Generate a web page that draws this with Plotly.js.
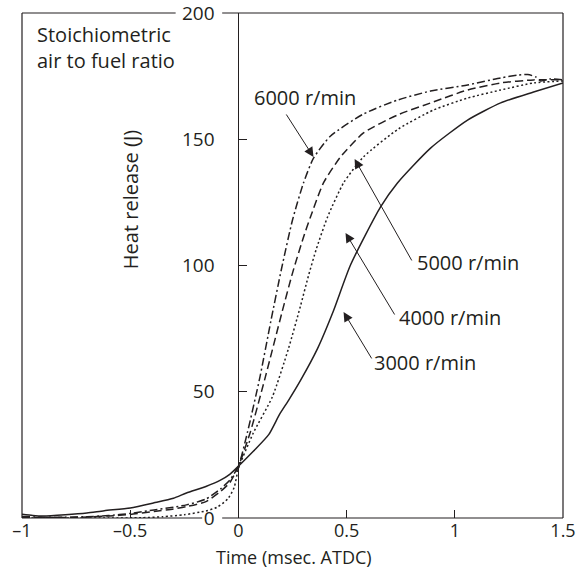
<!DOCTYPE html>
<html>
<head>
<meta charset="utf-8">
<script src="https://cdn.plot.ly/plotly-3.0.1.min.js"></script>
<style>html,body{margin:0;padding:0;background:#fff;}</style>
</head>
<body>
<div id="chart" style="width:576px;height:570px;"></div>
<script>
// ---- data ----
const x3000 = [-1, -0.95, -0.9, -0.8, -0.7, -0.62, -0.5, -0.39, -0.3, -0.24, -0.15, -0.083, -0.04, 0, 0.07, 0.14, 0.19, 0.231, 0.287, 0.365, 0.439, 0.518, 0.657, 0.735, 0.888, 1.059, 1.212, 1.364, 1.5];
const y3000 = [1.5, 1.0, 0.8, 1.3, 2.0, 2.9, 4.0, 6.0, 7.8, 9.9, 12.5, 15, 17.3, 20.5, 26.5, 33, 41, 46.5, 54.5, 67, 82, 100.2, 123.2, 132.7, 146.5, 157.6, 164.4, 168.7, 172.3];

const x4000 = [-1, -0.8, -0.6, -0.45, -0.35, -0.25, -0.15, -0.1, -0.05, -0.02, 0, 0.069, 0.157, 0.231, 0.287, 0.324, 0.36, 0.412, 0.486, 0.578, 0.74, 0.902, 1.059, 1.212, 1.364, 1.5];
const y4000 = [0, 0, 0, 0.1, 0.5, 1.3, 2.8, 4.2, 7.5, 12, 19.5, 33.7, 48, 67, 84, 96, 106.5, 119.2, 132.7, 143, 154.1, 161.6, 166.3, 169.5, 172.3, 173.1];

const x5000 = [-1, -0.9, -0.8, -0.7, -0.6, -0.5, -0.39, -0.3, -0.24, -0.15, -0.083, -0.04, 0, 0.055, 0.125, 0.2, 0.25, 0.3, 0.333, 0.393, 0.472, 0.578, 0.735, 0.902, 1.059, 1.212, 1.364, 1.5];
const y5000 = [0.3, 0.2, 0.2, 0.4, 0.8, 1.4, 2.6, 3.6, 4.5, 6.5, 10.5, 14, 20.5, 34, 56, 81, 97, 111, 119.2, 132.7, 143, 152.5, 159.6, 164.8, 169.5, 172.3, 173.5, 173.5];

const x6000 = [-1, -0.9, -0.8, -0.7, -0.6, -0.5, -0.39, -0.3, -0.24, -0.15, -0.083, -0.04, 0, 0.042, 0.1, 0.15, 0.2, 0.25, 0.3, 0.347, 0.426, 0.578, 0.735, 0.888, 1.059, 1.212, 1.29, 1.337, 1.374, 1.397, 1.443, 1.5];
const y6000 = [0.6, 0.3, 0.3, 0.5, 1.0, 1.8, 3.2, 4.3, 5.2, 7.5, 11.5, 15, 20.5, 34, 56, 78, 99, 118, 132.5, 142.5, 151.3, 160, 165.5, 169.1, 171.5, 174.3, 175.4, 175.6, 174.7, 173.1, 173.9, 173.5];

const xTickVals = [-1, -0.5, 0, 0.5, 1, 1.5];
const xTickText = ['\u20131', '\u20130.5', '0', '0.5', '1', '1.5'];
const yTickVals = [0, 50, 100, 150, 200];
const yTickText = ['0', '50', '100', '150', '200'];

const speedLabels = ['6000 r/min', '5000 r/min', '4000 r/min', '3000 r/min'];
const xTitle = 'Time (msec. ATDC)';
const yTitle = 'Heat release (J)';

// ---- styling ----
const INK = '#231f20';
const FONT = 'Open Sans, Liberation Sans, Arial, sans-serif';
const FS = 20;
const TFS = 19;

const traces = [
  {x: x3000, y: y3000, mode: 'lines', line: {color: INK, width: 1.5, shape: 'spline', smoothing: 0.6}, name: speedLabels[3]},
  {x: x4000, y: y4000, mode: 'lines', line: {color: INK, width: 1.5, dash: '2px,2.5px', shape: 'spline', smoothing: 0.6}, name: speedLabels[2]},
  {x: x5000, y: y5000, mode: 'lines', line: {color: INK, width: 1.5, dash: '8px,4px', shape: 'spline', smoothing: 0.6}, name: speedLabels[1]},
  {x: x6000, y: y6000, mode: 'lines', line: {color: INK, width: 1.5, dash: '8px,3px,2px,3px', shape: 'spline', smoothing: 0.6}, name: speedLabels[0]}
];

// frame (paper coords of the plotting area), with gaps where 200 and 0 labels sit
const frameLine = {color: INK, width: 1.2};
const shapes = [
  {type: 'line', xref: 'paper', yref: 'paper', x0: 0, x1: 0, y0: 0, y1: 1, line: frameLine},
  {type: 'line', xref: 'paper', yref: 'paper', x0: 1, x1: 1, y0: 0, y1: 1, line: frameLine},
  {type: 'line', xref: 'paper', yref: 'paper', x0: 0, x1: 0.284, y0: 1, y1: 1, line: frameLine},
  {type: 'line', xref: 'paper', yref: 'paper', x0: 0.370, x1: 1, y0: 1, y1: 1, line: frameLine},
  {type: 'line', xref: 'paper', yref: 'paper', x0: 0, x1: 0.333, y0: 0, y1: 0, line: frameLine},
  {type: 'line', xref: 'paper', yref: 'paper', x0: 0.370, x1: 1, y0: 0, y1: 0, line: frameLine}
];

function arrow(hx, hy, tx, ty) {
  return {x: hx, y: hy, ax: tx, ay: ty, xref: 'x', yref: 'y', axref: 'x', ayref: 'y',
          text: '', showarrow: true, arrowhead: 2, arrowsize: 1.9, arrowwidth: 1, arrowcolor: INK, standoff: 0, startstandoff: 0};
}
function label(txt, x, y) {
  return {x: x, y: y, xref: 'x', yref: 'y', text: txt, showarrow: false, xanchor: 'center', yanchor: 'middle',
          font: {family: FONT, size: FS, color: INK}};
}

const annotations = [
  {xref: 'paper', yref: 'paper', x: 0.024, y: 0.988, xanchor: 'left', yanchor: 'top', align: 'left', showarrow: false,
   text: 'Stoichiometric<br>air to fuel ratio', font: {family: FONT, size: FS, color: INK}},
  {xref: 'x', yref: 'y', x: -0.495, y: 126, textangle: -90, showarrow: false, xanchor: 'center', yanchor: 'middle',
   text: yTitle, font: {family: FONT, size: FS, color: INK}},
  {xref: 'paper', yref: 'paper', x: 0.503, y: -0.0775, xanchor: 'center', yanchor: 'middle', showarrow: false,
   text: xTitle, font: {family: FONT, size: 18, color: INK}},
  label(speedLabels[0], 0.31, 166.5),
  label(speedLabels[1], 1.06, 101),
  label(speedLabels[2], 0.98, 79.5),
  label(speedLabels[3], 0.86, 61.5),
  arrow(0.347, 143.0, 0.217, 160.4),
  arrow(0.537, 142.2, 0.805, 101.4),
  arrow(0.495, 112.9, 0.726, 80.0),
  arrow(0.486, 81.6, 0.62, 62.6)
];

const layout = {
  width: 576, height: 570,
  margin: {l: 22, r: 13, t: 13, b: 52, pad: 0},
  paper_bgcolor: '#fff', plot_bgcolor: '#fff',
  showlegend: false,
  font: {family: FONT, size: FS, color: INK},
  xaxis: {
    range: [-1, 1.5], showgrid: false, zeroline: false, showline: false,
    tickmode: 'array', tickvals: xTickVals, ticktext: xTickText,
    ticks: 'inside', ticklen: 8, tickwidth: 1, tickcolor: INK,
    tickfont: {family: FONT, size: 18, color: INK},
    ticklabelstandoff: 0, ticklabeloverflow: 'allow'
  },
  yaxis: {
    range: [0, 200], anchor: 'free', position: 0.4, side: 'left',
    showgrid: false, zeroline: false, showline: true, linecolor: INK, linewidth: 1,
    tickmode: 'array', tickvals: yTickVals, ticktext: yTickText,
    ticks: 'inside', ticklen: 8, tickwidth: 1, tickcolor: INK,
    tickfont: {family: FONT, size: TFS, color: INK},
    ticklabelstandoff: 20, ticklabeloverflow: 'allow'
  },
  shapes: shapes,
  annotations: annotations
};

Plotly.newPlot('chart', traces, layout, {staticPlot: true, displayModeBar: false});
</script>
</body>
</html>
